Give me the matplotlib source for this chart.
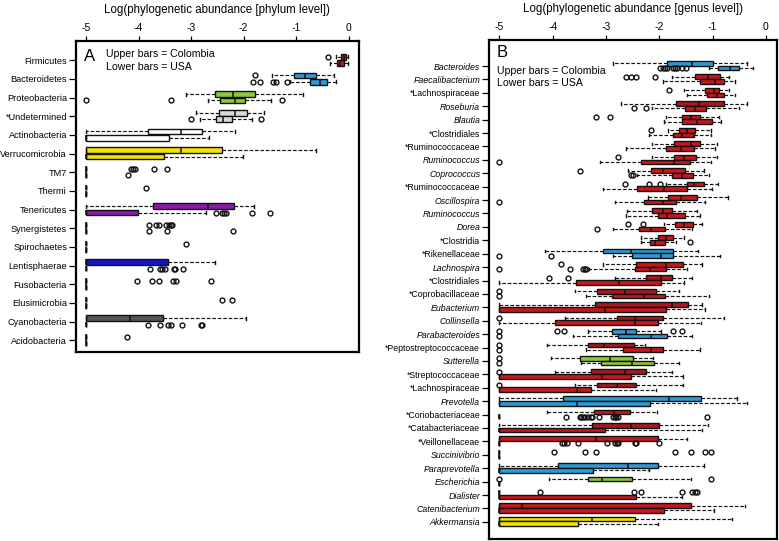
import numpy as np
import matplotlib
matplotlib.use("Agg")
import matplotlib.pyplot as plt

plt.rcParams['font.family'] = ['Liberation Sans', 'DejaVu Sans']

# ---- panel A : phylum level ----
phyla = ["Firmicutes", "Bacteroidetes", "Proteobacteria", "*Undetermined",
         "Actinobacteria", "Verrucomicrobia", "TM7", "Thermi", "Tenericutes",
         "Synergistetes", "Spirochaetes", "Lentisphaerae", "Fusobacteria",
         "Elusimicrobia", "Cyanobacteria", "Acidobacteria"]

# (whislo, q1, median, q3, whishi)
phyla_col = [(-0.25, -0.15, -0.095, -0.045, -0.013),
             (-1.47, -1.04, -0.84, -0.63, -0.28),
             (-3.09, -2.54, -2.21, -1.79, -0.87),
             (-2.90, -2.47, -2.17, -1.94, -1.62),
             (-5, -3.83, -3.19, -2.80, -2.17),
             (-5, -5, -3.19, -2.42, -0.63),
             (-5, -5, -5, -5, -5),
             (-5, -5, -5, -5, -5),
             (-5, -3.73, -2.67, -2.19, -1.80),
             (-5, -5, -5, -5, -5),
             (-5, -5, -5, -5, -5),
             (-5, -5, -5, -3.44, -2.55),
             (-5, -5, -5, -5, -5),
             (-5, -5, -5, -5, -5),
             (-5, -5, -4.17, -3.53, -1.95),
             (-5, -5, -5, -5, -5)]
phyla_usa = [(-0.36, -0.22, -0.16, -0.09, -0.013),
             (-1.11, -0.73, -0.55, -0.41, -0.24),
             (-2.68, -2.46, -2.17, -1.98, -1.49),
             (-2.84, -2.52, -2.39, -2.23, -1.85),
             (-5, -5, -5, -3.43, -2.66),
             (-5, -5, -5, -3.52, -2.01),
             (-5, -5, -5, -5, -5),
             (-5, -5, -5, -5, -5),
             (-5, -5, -5, -4.02, -2.72),
             (-5, -5, -5, -5, -5),
             (-5, -5, -5, -5, -5),
             (-5, -5, -5, -5, -5),
             (-5, -5, -5, -5, -5),
             (-5, -5, -5, -5, -5),
             (-5, -5, -5, -5, -5),
             (-5, -5, -5, -5, -5)]
phyla_col_out = [[-0.39], [-1.79], [], [], [], [],
                 [-4.15, -4.10, -4.07, -3.71, -3.45], [-3.86], [],
                 [-3.80, -3.66, -3.62, -3.47, -3.43, -3.39, -3.36], [-3.09], [],
                 [-4.03, -3.74, -3.62, -3.34, -3.29, -2.63], [-2.41, -2.23], [], [-4.22]]
phyla_usa_out = [[], [-1.83, -1.69, -1.44, -1.38, -1.18], [-5.0, -3.39, -1.28], [-3.0, -1.68],
                 [], [], [-4.20], [], [-2.52, -2.42, -2.38, -2.34, -1.84, -1.50],
                 [-3.80, -3.46, -2.21], [], [-3.78, -3.60, -3.55, -3.50, -3.33, -3.30, -3.16],
                 [], [], [-3.82, -3.60, -3.44, -3.39, -3.17, -2.82, -2.79], []]
phyla_colors = ["#C4161C", "#2E9AD5", "#8DC63F", "#D9D9D9", "#FFFFFF", "#F2E600",
                "#FFFFFF", "#FFFFFF", "#8A1BA6", "#FFFFFF", "#FFFFFF", "#1515C6",
                "#FFFFFF", "#FFFFFF", "#555555", "#FFFFFF"]

# ---- panel B : genus level ----
genera = ["Bacteroides", "Faecalibacterium", "*Lachnospiraceae", "Roseburia", "Blautia",
          "*Clostridiales", "*Ruminococcaceae", "Ruminococcus", "Coprococcus",
          "*Ruminococcaceae", "Oscillospira", "Ruminococcus", "Dorea", "*Clostridia",
          "*Rikenellaceae", "Lachnospira", "*Clostridiales", "*Coprobacillaceae",
          "Eubacterium", "Collinsella", "Parabacteroides", "*Peptostreptococcaceae",
          "Sutterella", "*Streptococcaceae", "*Lachnospiraceae", "Prevotella",
          "*Coriobacteriaceae", "*Catabacteriaceae", "*Veillonellaceae", "Succinivibrio",
          "Paraprevotella", "Escherichia", "Dialister", "Catenibacterium", "Akkermansia"]

genera_col = [(-2.87, -1.85, -1.38, -1.00, -0.36),
              (-1.76, -1.33, -1.09, -0.86, -0.70),
              (-1.54, -1.15, -0.98, -0.89, -0.70),
              (-2.72, -1.69, -1.26, -0.79, -0.36),
              (-1.88, -1.58, -1.41, -1.23, -0.89),
              (-1.83, -1.63, -1.48, -1.33, -1.04),
              (-2.13, -1.72, -1.41, -1.23, -0.92),
              (-2.14, -1.72, -1.54, -1.32, -0.92),
              (-2.59, -2.16, -1.94, -1.51, -1.17),
              (-1.88, -1.48, -1.35, -1.17, -0.90),
              (-2.22, -1.83, -1.60, -1.30, -0.71),
              (-2.61, -2.13, -1.94, -1.76, -1.29),
              (-1.91, -1.71, -1.54, -1.37, -1.20),
              (-2.34, -2.02, -1.88, -1.74, -1.54),
              (-4.14, -3.06, -2.53, -1.74, -1.27),
              (-3.05, -2.43, -1.88, -1.55, -1.20),
              (-2.84, -2.25, -1.97, -1.77, -1.38),
              (-3.59, -3.16, -2.64, -2.07, -1.63),
              (-5, -3.21, -1.77, -1.46, -1.20),
              (-3.77, -2.80, -2.45, -1.94, -0.79),
              (-3.34, -2.88, -2.62, -2.43, -1.97),
              (-4.11, -3.33, -3.03, -2.47, -2.26),
              (-4.04, -3.49, -2.93, -2.50, -2.12),
              (-3.96, -3.29, -2.64, -2.25, -1.77),
              (-3.59, -3.16, -2.80, -2.43, -1.56),
              (-5, -3.80, -1.82, -1.22, -0.55),
              (-4.11, -3.23, -2.85, -2.55, -2.05),
              (-5, -3.26, -2.53, -2.00, -1.09),
              (-5, -5, -3.18, -2.02, -1.48),
              (-5, -5, -5, -5, -5),
              (-5, -3.90, -2.59, -2.03, -1.17),
              (-4.07, -3.33, -3.08, -2.52, -1.41),
              (-5, -5, -5, -5, -5),
              (-5, -5, -4.58, -1.40, -0.39),
              (-5, -5, -3.26, -2.46, -0.64)]
genera_usa = [(-1.07, -0.90, -0.68, -0.50, -0.24),
              (-1.94, -1.24, -0.95, -0.78, -0.58),
              (-1.48, -1.10, -0.92, -0.79, -0.58),
              (-2.13, -1.52, -1.33, -1.12, -0.51),
              (-1.91, -1.58, -1.30, -1.01, -0.84),
              (-2.19, -1.74, -1.57, -1.35, -1.04),
              (-2.62, -1.87, -1.60, -1.35, -0.96),
              (-3.12, -2.34, -1.72, -1.43, -1.04),
              (-2.41, -1.77, -1.58, -1.37, -1.07),
              (-3.06, -2.42, -1.91, -1.48, -1.01),
              (-2.84, -2.28, -1.94, -1.69, -1.14),
              (-2.62, -2.02, -1.85, -1.51, -1.23),
              (-2.87, -2.39, -2.16, -1.90, -1.38),
              (-2.34, -2.18, -2.08, -1.89, -1.69),
              (-2.87, -2.52, -1.97, -1.74, -0.86),
              (-3.31, -2.46, -2.18, -1.88, -1.48),
              (-5, -3.57, -2.75, -1.97, -1.54),
              (-3.37, -2.88, -2.28, -1.90, -1.07),
              (-5, -5, -3.01, -1.88, -1.14),
              (-5, -3.96, -2.45, -2.03, -1.21),
              (-3.62, -2.77, -2.15, -1.85, -1.38),
              (-3.37, -2.69, -2.16, -1.94, -1.23),
              (-3.46, -3.09, -2.52, -2.10, -1.63),
              (-5, -5, -3.08, -2.53, -1.56),
              (-5, -5, -3.54, -3.29, -2.07),
              (-5, -5, -3.55, -2.18, -0.36),
              (-5, -5, -5, -5, -5),
              (-5, -5, -5, -3.01, -1.20),
              (-5, -5, -5, -5, -5),
              (-5, -5, -5, -5, -5),
              (-5, -5, -5, -3.24, -2.19),
              (-5, -5, -5, -5, -5),
              (-5, -5, -5, -2.44, -1.57),
              (-5, -5, -5, -1.91, -0.98),
              (-5, -5, -5, -3.52, -2.02)]
genera_col_out = [[], [-2.62, -2.54, -2.44, -2.08], [-1.81], [], [-3.18, -2.92], [-2.16],
                  [], [-2.77], [-3.49], [-2.64, -2.20, -1.99], [], [], [-2.59, -2.30], [],
                  [], [-3.85], [-4.06, -3.71], [-5.0], [], [-5.0],
                  [-5.0, -3.91, -3.79, -1.74, -1.58], [-5.0], [-5.0], [-5.0], [-5.0],
                  [], [], [], [], [-3.97, -3.39, -3.19, -1.71, -1.41, -1.14, -1.03],
                  [], [-5.0, -1.04], [-4.24, -2.48, -2.34, -1.58, -1.38, -1.34, -1.30], [], []]
genera_usa_out = [[-1.99, -1.94, -1.90, -1.85, -1.74, -1.71, -1.66, -1.58, -1.50], [], [],
                  [-2.48, -2.25], [], [], [], [-5.0], [-2.53, -2.50], [], [-5.0], [],
                  [-3.16], [-1.43], [-5.0, -4.03], [-5.0, -3.68, -3.43, -3.40, -3.37], [],
                  [-5.0], [], [], [-5.0], [-5.0], [-5.0], [], [], [],
                  [-3.75, -3.49, -3.46, -3.43, -3.39, -3.34, -3.29, -3.26, -3.13,
                   -2.87, -2.84, -2.81, -2.78, -1.10], [],
                  [-3.83, -3.79, -3.74, -3.52, -2.98, -2.84, -2.80, -2.77, -2.46, -2.44, -2.00],
                  [], [], [], [], [], []]

red, dred, blue, green, yellow = "#C8161D", "#A8191E", "#2E9AD5", "#8DC63F", "#F2E600"
genera_col_colors = [blue, red, red, dred, red, red, red, red, red, red, red, red, red, red,
                     blue, red, dred, dred, dred, dred, blue, dred, green, dred, dred, blue,
                     red, dred, red, red, blue, green, red, red, yellow]
genera_usa_colors = [blue, red, red, red, red, red, red, red, red, red, red, red, red, red,
                     blue, red, red, red, red, red, blue, red, green, red, red, blue,
                     red, red, red, red, blue, green, red, red, yellow]


def make_stats(vals, outs):
	stats = []
	for (lo, q1, med, q3, hi), fl in zip(vals, outs):
		stats.append(dict(whislo=lo, q1=q1, med=med, q3=q3, whishi=hi, fliers=fl))
	return stats


def draw_panel(ax, names, col, usa, col_out, usa_out, col_colors, usa_colors,
               off_up, off_lo, width):
	pos = np.arange(1, len(names) + 1)
	kw = dict(orientation='horizontal', widths=width, patch_artist=True, manage_ticks=False,
	          boxprops=dict(edgecolor='#111111', linewidth=1.0),
	          medianprops=dict(color='#111111', linewidth=1.1),
	          whiskerprops=dict(color='#111111', linewidth=0.85, linestyle=(0, (3, 1.6))),
	          capprops=dict(color='#111111', linewidth=1.0),
	          flierprops=dict(marker='o', markersize=3.5, markerfacecolor='none',
	                          markeredgecolor='#111111', markeredgewidth=1.0, linestyle='none'))
	b1 = ax.bxp(make_stats(col, col_out), positions=pos + off_up, **kw)
	b2 = ax.bxp(make_stats(usa, usa_out), positions=pos + off_lo, **kw)
	for patch, c in zip(b1['boxes'], col_colors):
		patch.set_facecolor(c)
	for patch, c in zip(b2['boxes'], usa_colors):
		patch.set_facecolor(c)
	ax.set_yticks(pos)
	ax.set_xticks([-5, -4, -3, -2, -1, 0])
	ax.set_xticklabels(["-5", "-4", "-3", "-2", "-1", "0"])
	ax.xaxis.tick_top()
	ax.xaxis.set_label_position('top')
	ax.tick_params(axis='x', length=3.5, width=0.9, pad=2.5, labelsize=7.5)
	ax.tick_params(axis='y', length=5, width=0.9, pad=1.5)
	for s in ax.spines.values():
		s.set_linewidth(1.6)
	return pos


fig = plt.figure(figsize=(7.79, 5.41), dpi=100)

axA = fig.add_axes([0.0976, 0.349, 0.363, 0.575])
posA = draw_panel(axA, phyla, phyla_col, phyla_usa, phyla_col_out, phyla_usa_out,
                  phyla_colors, phyla_colors, -0.18, 0.16, 0.31)
axA.set_yticklabels(phyla, fontsize=6.6)
axA.set_xlim(-5.19, 0.19)
axA.set_ylim(16.64, -0.02)
axA.set_xlabel("Log(phylogenetic abundance [phylum level])", fontsize=8.3, labelpad=7)
axA.text(0.028, 0.975, "A", transform=axA.transAxes, fontsize=12, va='top', ha='left')
axA.text(0.106, 0.958, "Upper bars = Colombia", transform=axA.transAxes, fontsize=7.6, va='center')
axA.text(0.106, 0.916, "Lower bars = USA", transform=axA.transAxes, fontsize=7.6, va='center')

axB = fig.add_axes([0.628, 0.004, 0.369, 0.922])
posB = draw_panel(axB, genera, genera_col, genera_usa, genera_col_out, genera_usa_out,
                  genera_col_colors, genera_usa_colors, -0.2, 0.15, 0.35)
axB.set_yticklabels(genera, fontsize=6.3)
for lab, name in zip(axB.get_yticklabels(), genera):
	if not name.startswith("*"):
		lab.set_fontstyle('italic')
axB.set_xlim(-5.19, 0.2)
axB.set_ylim(36.27, -0.94)
axB.set_xlabel("Log(phylogenetic abundance [genus level])", fontsize=8.3, labelpad=7)
axB.text(0.026, 0.99, "B", transform=axB.transAxes, fontsize=12, va='top', ha='left')
axB.text(0.026, 0.938, "Upper bars = Colombia", transform=axB.transAxes, fontsize=7.6, va='center')
axB.text(0.026, 0.913, "Lower bars = USA", transform=axB.transAxes, fontsize=7.6, va='center')

fig.savefig("out.png", dpi=100)
